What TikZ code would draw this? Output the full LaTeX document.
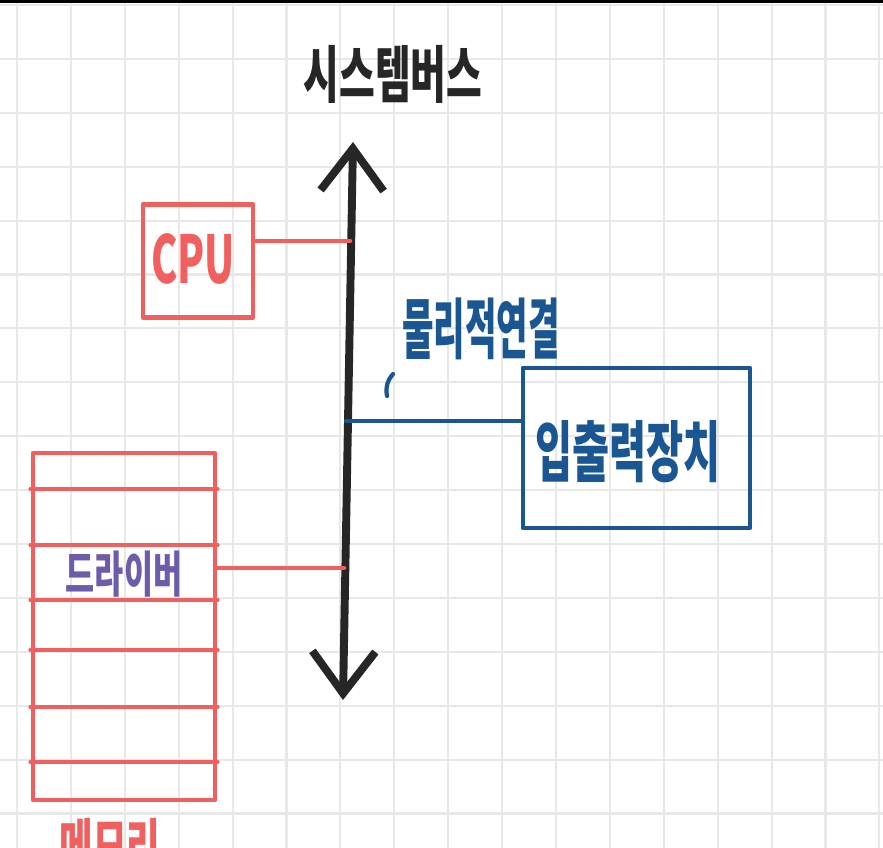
\documentclass[tikz,border=0pt]{standalone}
\usepackage{fontspec}
\newfontfamily\kr{Noto Sans CJK KR}
\usetikzlibrary{arrows.meta}
\definecolor{penred}{RGB}{240,96,94}
\definecolor{penblue}{RGB}{26,86,146}
\definecolor{penpurple}{RGB}{108,92,170}
\definecolor{gridgray}{RGB}{232,232,232}
\newcommand{\pen}[4]{{\kr\bfseries\fontsize{#1}{#1}\selectfont\scalebox{#2}[#3]{#4}}}

\begin{document}
\begin{tikzpicture}[
        x=0.02cm,y=-0.02cm,
        line cap=round,line join=round,
        gridline/.style={draw=gridgray,line width=1.2pt},
        redbox/.style={draw=penred,line width=2.8pt,inner sep=0pt},
        redline/.style={draw=penred,line width=2.6pt},
        bluebox/.style={draw=penblue,line width=2.8pt,inner sep=0pt},
        blueline/.style={draw=penblue,line width=2.4pt},
        bus/.style={draw=black!85,line width=4.5pt,
            {Straight Barb[length=0.84cm,width=1.26cm]}-{Straight Barb[length=0.84cm,width=1.26cm]}},
        handtext/.style={inner sep=0pt}
    ]
        \useasboundingbox (0,0) rectangle (883,848);
        \fill[white] (0,0) rectangle (883,848);
        % grid paper
        \foreach \i in {0,...,16}
            \draw[gridline] ({17+53.9*\i},0) -- ({17+53.9*\i},848);
        \foreach \j in {0,...,15}
            \draw[gridline] (0,{5+53.9*\j}) -- (883,{5+53.9*\j});
        \draw[line width=2pt] (0,1) -- (883,1);

        % system bus
        \coordinate (bustop) at (353,142);
        \coordinate (busbot) at (343,700);
        \coordinate (bcpu) at (350,241);
        \coordinate (bio) at (346,421);
        \coordinate (bmem) at (344,568);
        \draw[bus] (busbot) -- (bustop);
        \node[handtext,text=black!85] (title) at (393,74) {\pen{26}{0.85}{1.35}{시스템버스}};

        % cpu
        \node[redbox,minimum width=2.2cm,minimum height=2.26cm] (cpu) at (198,261) {};
        \node[handtext,text=penred] (cpulabel) at (193,259) {\pen{30}{0.75}{1.25}{CPU}};
        \draw[redline] (cpu.east |- bcpu) -- (bcpu);

        % memory
        \node[redbox,minimum width=3.64cm,minimum height=6.94cm] (mem) at (124,626.5) {};
        \foreach \y in {489,545,600,650,707,762}
            \draw[redline] (mem.west |- 0,\y) -- (mem.east |- 0,\y);
        \node[handtext,text=penpurple] (driver) at (124,574) {\pen{20}{0.9}{1.4}{드라이버}};
        \draw[redline] (mem.east |- bmem) -- (bmem);
        \node[handtext,text=penred] (memlabel) at (110,846) {\pen{26}{0.8}{1.3}{메모리}};

        % i/o device
        \node[bluebox,minimum width=4.54cm,minimum height=3.2cm] (io) at (636.5,448) {};
        \node[handtext,text=penblue] (iolabel) at (628,452) {\pen{28}{0.82}{1.35}{입출력장치}};
        \draw[blueline] (bio) -- (io.west |- bio);
        \node[handtext,text=penblue] (link) at (481,329) {\pen{25}{0.78}{1.5}{물리적연결}};
        \draw[blueline] (393,374) to[bend right=25] (387,396);
    \end{tikzpicture}
\end{document}
